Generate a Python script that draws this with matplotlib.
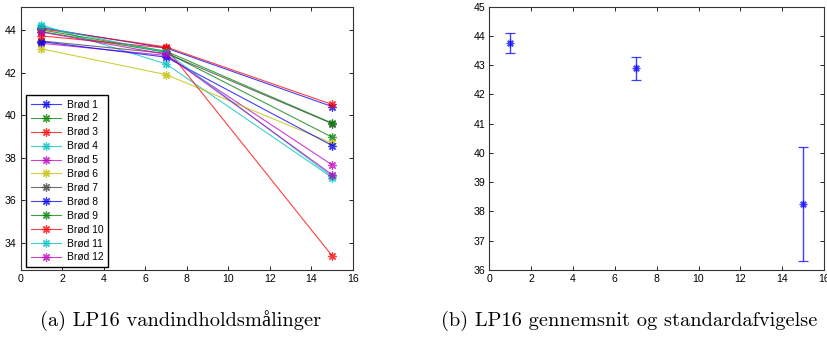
import matplotlib
matplotlib.use("Agg")
import matplotlib.pyplot as plt

# Measurement days
days = [1, 7, 15]

# Water content (%) per loaf
series_names = ["Brød 1", "Brød 2", "Brød 3", "Brød 4", "Brød 5", "Brød 6",
                "Brød 7", "Brød 8", "Brød 9", "Brød 10", "Brød 11", "Brød 12"]
brod1 = [44.10, 43.15, 40.40]
brod2 = [43.92, 42.95, 38.96]
brod3 = [44.05, 43.20, 40.50]
brod4 = [44.23, 42.40, 37.07]
brod5 = [43.37, 42.80, 37.66]
brod6 = [43.11, 41.90, 38.68]
brod7 = [43.48, 42.90, 39.60]
brod8 = [43.45, 42.72, 38.57]
brod9 = [44.00, 43.00, 39.62]
brod10 = [43.72, 43.15, 33.39]
brod11 = [44.15, 42.95, 37.12]
brod12 = [43.90, 42.85, 37.20]
all_series = [brod1, brod2, brod3, brod4, brod5, brod6,
              brod7, brod8, brod9, brod10, brod11, brod12]

# Mean and standard deviation per day
mean_vals = [43.75, 42.89, 38.25]
std_vals = [0.35, 0.39, 1.95]

# MATLAB-style default line colour cycle
colors = [(0, 0, 1), (0, 0.5, 0), (1, 0, 0), (0, 0.75, 0.75),
          (0.75, 0, 0.75), (0.75, 0.75, 0), (0.25, 0.25, 0.25)]

# asterisk marker: eight arms, like a '+' and an 'x' on top of each other
asterisk = (8, 2, 0)

fig = plt.figure(figsize=(8.27, 3.46), dpi=100)
fig.patch.set_facecolor("white")

ax1 = fig.add_axes([0.025, 0.2197, 0.4018, 0.761])
ax2 = fig.add_axes([0.5917, 0.2197, 0.4047, 0.761])

for i, (name, vals) in enumerate(zip(series_names, all_series)):
    c = colors[i % len(colors)]
    ax1.plot(days, vals, color=c, lw=0.8, alpha=0.75, marker=asterisk,
             markersize=6, markeredgewidth=0.9, label=name)

ax1.set_xlim(0, 16)
ax1.set_ylim(32.73, 45.09)
ax1.set_xticks(range(0, 17, 2))
ax1.set_yticks(range(34, 45, 2))

leg = ax1.legend(loc="lower left", bbox_to_anchor=(0.016, 0.011),
                 borderaxespad=0, fancybox=False, framealpha=1,
                 edgecolor="black", prop={"family": "Liberation Sans", "size": 7.4},
                 handlelength=3.0, labelspacing=0.38, borderpad=0.45,
                 handletextpad=0.5)
leg.get_frame().set_linewidth(1.0)

ax2.errorbar(days, mean_vals, yerr=std_vals, color=(0, 0, 1), lw=1.0,
             alpha=0.75, linestyle="none", marker=asterisk, markersize=5.5,
             markeredgewidth=0.9, capsize=3.5, capthick=1.0)
ax2.set_xlim(0, 16)
ax2.set_ylim(36, 45)
ax2.set_xticks(range(0, 17, 2))
ax2.set_yticks(range(36, 46, 1))

for ax in (ax1, ax2):
    ax.tick_params(direction="in", top=True, right=True, length=3,
                   width=0.6, pad=3, colors="black")
    for lbl in ax.get_xticklabels() + ax.get_yticklabels():
        lbl.set_fontfamily("Liberation Sans")
        lbl.set_fontsize(7.6)
    for sp in ax.spines.values():
        sp.set_linewidth(0.8)
        sp.set_color("#333333")

cap_font = ["cmr10", "Liberation Serif"]
fig.text(40 / 827, 1 - 321 / 346, "(a) LP16 vandindholdsmålinger",
         family=cap_font, fontsize=14.7, ha="left", va="center")
fig.text(441 / 827, 1 - 321 / 346, "(b) LP16 gennemsnit og standardafvigelse",
         family=cap_font, fontsize=14.7, ha="left", va="center")

fig.savefig("out.png", dpi=100)
